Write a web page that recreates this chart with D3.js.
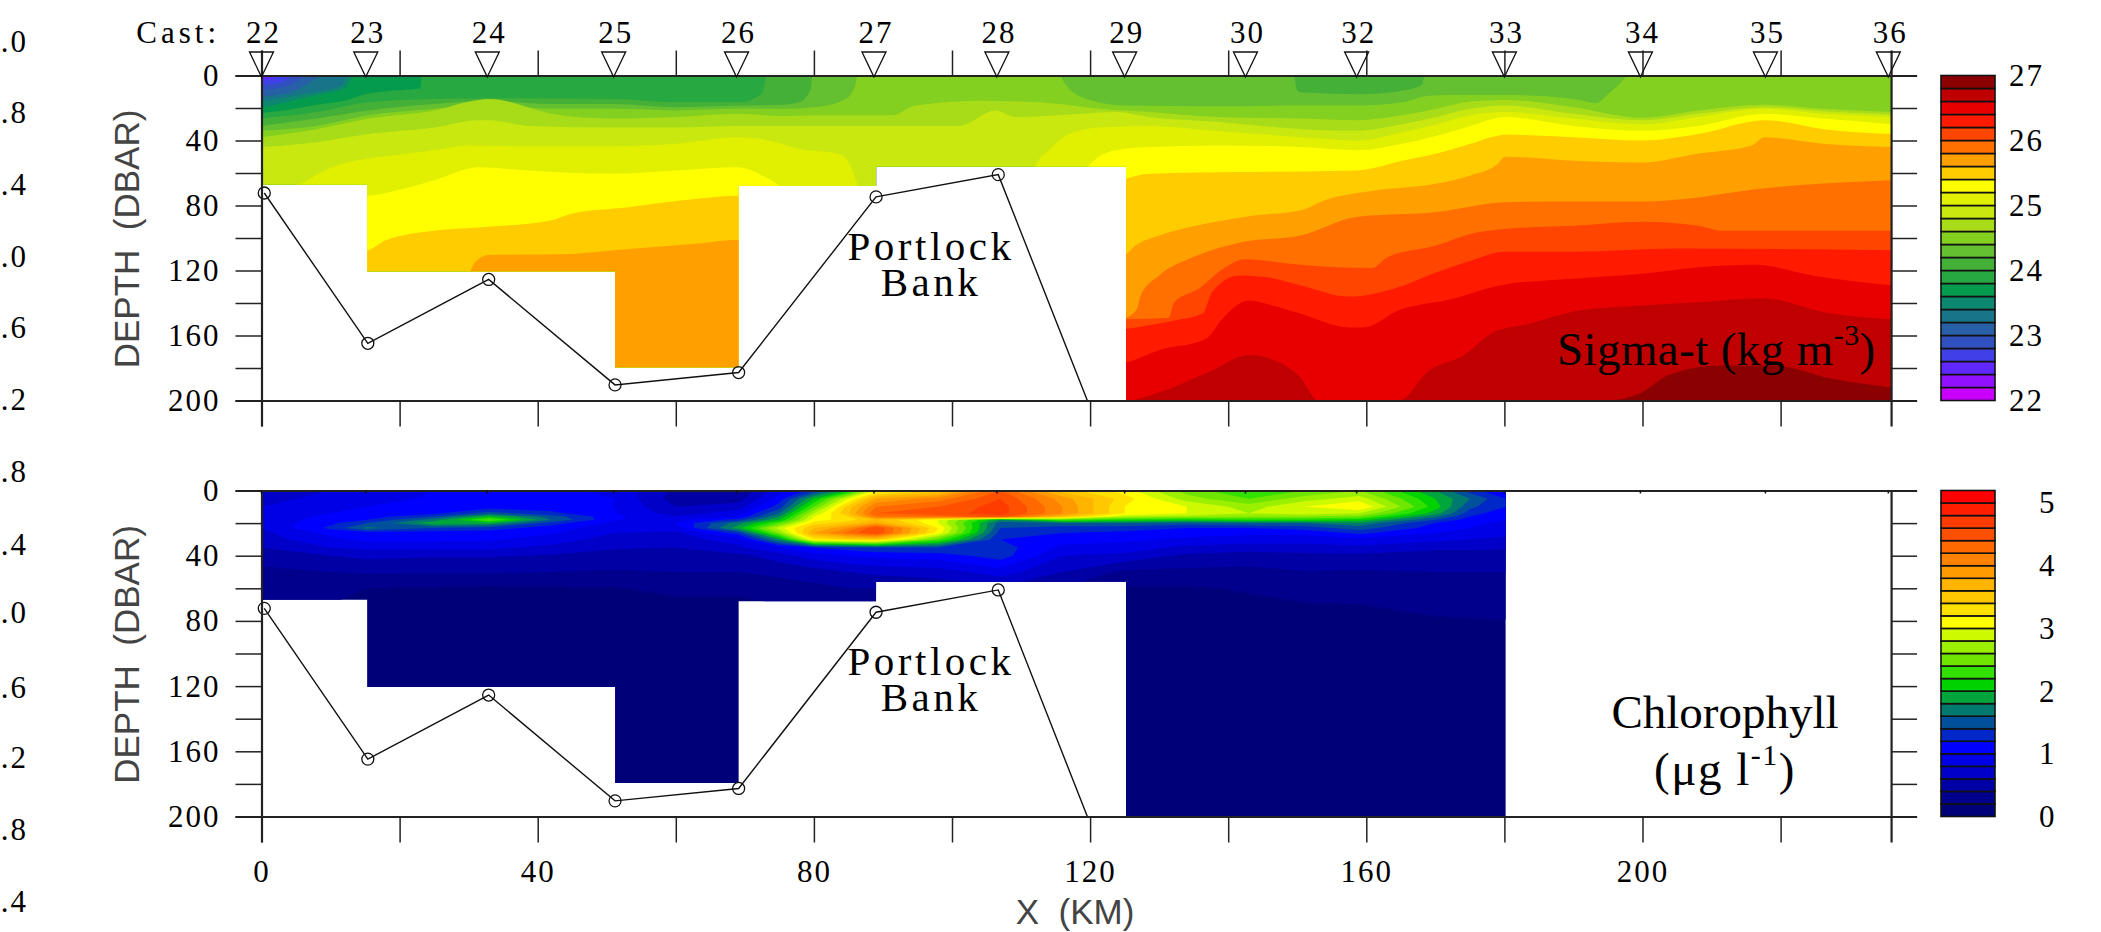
<!DOCTYPE html>
<html>
<head>
<meta charset="utf-8">
<script src="https://cdn.jsdelivr.net/npm/d3@7"></script>
<style>
  body { margin: 0; background: #fff; }
  text { font-family: "Liberation Serif", serif; fill: #000; }
  .num text, text.num { font-size: 31px; letter-spacing: 2px; }
  .axis-title { font-family: "Liberation Sans", sans-serif; font-size: 35px; fill: #444; }
  .note { font-size: 47px; }
  .bank { font-size: 41px; letter-spacing: 3.5px; }
</style>
</head>
<body>
<svg width="2101" height="932"></svg>
<script>
const svg = d3.select('svg');

// Casts along the section
const castNames = [22, 23, 24, 25, 26, 27, 28, 29, 30, 32, 33, 34, 35, 36];
const castKm = [0, 15.1, 32.7, 51, 68.8, 88.7, 106.5, 125, 142.5, 158.6, 180, 199.7, 217.8, 235.6];

// Bottom profile (km, dbar)
const bottomKm = [0.4, 15.4, 32.9, 51.2, 69.1, 89, 106.7, 119.6];
const bottomDepth = [72.3, 164.8, 125.5, 190.4, 182.8, 74.7, 61, 200];

// Deepest sampled depth, step by step along the section
const limitKm = [0, 15.3, 51.2, 69.1, 89, 125.2, 236];
const limitDepth = [67, 120.5, 179.5, 68, 56, 200, 200];
const chlLimitKm = [0, 15.3, 51.2, 69.1, 89, 125.2, 180.2];
const chlLimitDepth = [67, 120.5, 179.5, 68, 56, 200, 200];

// Colour ramps, low to high
const sigmaColors = ['#c800ff', '#9010ff', '#6028ff', '#4040e8', '#3050c0', '#2860a8', '#187488', '#0c8870', '#049c4c',
  '#28a840', '#44b038', '#64c030', '#84d020', '#a8dc18', '#c8e810', '#e0f000', '#ffff00', '#ffcc00', '#ffa000',
  '#ff7000', '#ff4500', '#ff1a00', '#e80000', '#c00000', '#8b0000'];
const chlColors = ['#000078', '#00008c', '#0000a5', '#0000c8', '#0000e6', '#0000ff', '#0028c8', '#00509b', '#007a6e',
  '#00a53c', '#00d200', '#32e100', '#6ee600', '#9bf000', '#cdfa00', '#ffff00', '#ffe100', '#ffc800', '#ffb400',
  '#ff9b00', '#ff8200', '#ff6900', '#ff5000', '#ff3c00', '#ff1e00', '#ff0000'];

// Isopycnal depths [km, dbar], one list per contour level
const iso224 = [[0, 0], [236, 0]];
const iso226 = [[0, 3], [1.5, 2], [2.4, 0], [236, 0]];
const iso228 = [[0, 6], [3, 4], [4.8, 0], [236, 0]];
const iso230 = [[0, 9], [4, 6], [7, 0], [236, 0]];
const iso232 = [[0, 13], [5, 9], [9.4, 0], [236, 0]];
const iso234 = [[0, 16], [6, 11.5], [11.5, 6.5], [12.5, 0], [236, 0]];
const iso236 = [[0, 20], [4, 16], [8, 12], [12, 8], [13.5, 0], [236, 0]];
const iso238 = [[0, 23], [4, 21], [8, 18], [12, 15.5], [15.5, 11], [20, 9], [23, 8], [23.2, 0], [236, 0]];
const iso240 = [[0, 26.5], [8, 22.5], [15.5, 16.5], [25, 14.5], [33, 14], [51, 14.5], [60, 16.5], [69, 16.5], [72.5, 11], [73.2, 0], [236, 0]];
const iso242 = [[0, 31], [8, 26.5], [15.5, 21.5], [25, 17.5], [33, 15.5], [42, 17.5], [51, 17.5], [60, 19.5], [69, 18.5], [75.4, 18], [77.8, 16.5], [79.5, 9], [79.8, 0],
  [149.5, 0], [150, 9.5], [151, 10.5], [159, 11.5], [165, 9.5], [168, 6], [168.5, 0], [236, 0]];
const iso244 = [[0, 34], [8, 31], [15.5, 24.5], [25, 20.5], [33, 17.5], [42, 20.5], [51, 20.5], [60, 21.5], [69, 20.5], [75.4, 20.5], [80.2, 19.5], [84.6, 14.5], [86, 6], [86.3, 0],
  [115.5, 0], [116.5, 6], [118.9, 13.5], [125.2, 18.5], [138.2, 19], [150.8, 18.5], [158.6, 18.5], [165.2, 16.5], [169.1, 12.5], [172.4, 12], [180.1, 12], [190, 14.5], [193.3, 17], [194.9, 12], [196.5, 6], [198, 0], [236, 0]];
const iso246 = [[0, 38], [8, 33], [15.5, 26.5], [25, 21.5], [31.4, 15], [33, 14.5], [42, 23.5], [51, 26.5], [60, 25.5], [69, 23.5], [75.4, 25], [80.2, 24.5], [91.3, 24.5], [94.7, 18.5], [104.4, 15.5],
  [115.5, 17.5], [121.3, 20.5], [128.5, 22.5], [138.2, 25.5], [150.8, 26.5], [158.6, 27.5], [165.2, 24.5], [170.2, 20.5], [175.1, 16], [180.1, 15], [190, 19.5], [199.9, 26], [208.1, 21.5], [217.7, 18], [226.2, 20.5], [236, 22.5]];
const iso248 = [[0, 44], [8, 41], [15.5, 36], [25, 32], [31.4, 27.5], [33, 27.5], [38.6, 31], [51, 32], [60, 32], [69, 31], [75.4, 31], [81.7, 31], [91.3, 31], [101, 31], [106.3, 21.5], [109.2, 25.5],
  [118.9, 23.5], [123.7, 22.5], [128.5, 25.5], [138.2, 28.5], [150.8, 33], [158.6, 34], [165.2, 30], [170.2, 25.5], [175.1, 20.5], [180.1, 18.5], [190, 23.5], [199.9, 27.5], [208.1, 23.5], [217.7, 19.5], [226.2, 22], [236, 24]];
const iso250 = [[0, 70], [5.8, 66.5], [8.2, 60.5], [11.6, 54.5], [19.3, 49], [25, 46], [30, 43], [38.6, 43.5], [51, 43.5], [60, 42], [69, 38], [75.4, 42], [76.8, 44], [84.1, 49], [85.5, 57.5], [86.8, 70],
  [111.1, 70], [112.1, 55.5], [114, 46], [116.5, 37], [121.3, 32], [128.5, 31], [138.2, 34], [150.8, 38], [158.6, 40], [165.2, 35], [170.2, 30], [175.1, 24.5], [180.1, 22.5], [190, 26.5], [199.9, 30], [208.1, 25.5], [217.7, 20.5], [226.2, 23.5], [236, 25.5]];
const iso252 = [[0, 75], [15.3, 74], [20.3, 70], [25, 64.5], [31.4, 56.5], [38.6, 58.5], [51, 60.5], [60, 58.5], [69, 56.5], [72.5, 61.5], [75, 68], [76, 72], [119, 72], [119.8, 55.5],
  [123.7, 46], [128.5, 44], [138.2, 43], [150.8, 44], [158.6, 46], [165.2, 42], [170.2, 37], [175.1, 31], [180.1, 25.5], [190, 31], [199.9, 34], [208.1, 31], [217.7, 23.5], [226.2, 26.5], [236, 30]];
const iso254 = [[0, 110], [15.3, 107.5], [17.9, 101.5], [25, 95.5], [31.4, 93.5], [42, 89], [44.9, 85], [53.1, 81], [62.8, 76], [69.1, 74], [120, 74], [125.2, 63.5], [128.5, 60.5], [138.2, 59.5], [150.8, 59],
  [158.6, 58.5], [165.2, 52.5], [170.2, 48], [175.1, 42], [179, 37], [180.1, 36.5], [190, 38], [199.9, 40], [208.1, 36], [217.7, 27.5], [226.2, 33], [236, 36]];
const iso256 = [[0, 125], [30, 125], [30.2, 121], [31.4, 113], [32.9, 110.5], [43.5, 110], [51, 107.5], [62.8, 103.5], [69.1, 101], [125, 110], [126.6, 104.5], [130, 98.5], [138.2, 90], [144, 86], [150.4, 83],
  [154.5, 76], [160.8, 71], [170.2, 66.5], [175.1, 61.5], [179, 54.5], [180.1, 50], [190, 52.5], [199.9, 53.5], [208.1, 48], [215.8, 43], [217.7, 38], [226.2, 42], [236, 44]];
const iso258 = [[0, 200], [69.1, 200], [125.2, 149], [126.8, 143.5], [127.3, 135.5], [130, 123], [134.8, 112], [142.1, 102.5], [150.4, 98.5], [158.6, 87], [170.2, 84], [180.1, 78], [190, 77.5], [199.9, 77.5], [208.1, 75], [216.3, 70], [226.2, 66.5], [236, 64.5]];
const iso260 = [[0, 200], [69.1, 200], [125.2, 150], [131.4, 149], [132.2, 139.5], [135.8, 131], [139.2, 119], [142.5, 113], [145.4, 114], [150.4, 116.5], [160.8, 118.5], [163, 112], [170.2, 104.5], [175.1, 97.5], [180.1, 94.5], [190, 92.5], [199.9, 90], [208.1, 92.5], [211.4, 95.5], [236, 95.5]];
const iso262 = [[0, 200], [69.1, 200], [125.2, 156], [131.9, 151], [136.3, 146.5], [137.7, 133], [141.6, 123], [145.4, 124], [150.4, 129], [157.5, 136], [164.1, 131], [170.2, 121], [175.1, 114], [180.1, 108.5], [190, 108.5], [205.3, 106.5], [236, 107.5]];
const iso264 = [[0, 200], [69.1, 200], [125.2, 176.5], [130, 169], [136.8, 162], [139.2, 149.5], [143, 138.5], [146.4, 141.5], [150.4, 146.5], [157.5, 155], [159.7, 155], [164.7, 144.5], [172.4, 137.5], [179.5, 129], [190, 125], [199.9, 122], [208.1, 118], [216.3, 116.5], [224.6, 123], [236, 129]];
const iso266 = [[0, 200], [125.2, 200], [130, 195], [137.2, 182.5], [143, 172], [147.9, 177.5], [150.4, 185.5], [153.1, 200], [164.7, 200], [169.1, 181.5], [174, 172.5], [178.4, 158], [183.4, 153], [191, 144.5], [199.9, 141.5], [208.1, 139.5], [217.4, 137], [227.3, 146.5], [236, 150]];
const iso268 = [[0, 205], [194.9, 200], [199.9, 195], [203.7, 184.5], [211.4, 178.5], [219.1, 178.5], [227.3, 186.5], [236, 192]];
const sigmaIsolines = [iso224, iso226, iso228, iso230, iso232, iso234, iso236, iso238, iso240, iso242, iso244, iso246,
  iso248, iso250, iso252, iso254, iso256, iso258, iso260, iso262, iso264, iso266, iso268];

// Chlorophyll profiles, one per station, read at chlDepth
const chlKm = [0, 10, 15.3, 25, 33, 42, 51, 60, 69, 75, 80, 85, 89, 98, 107, 116, 125, 134, 143, 151, 159, 170, 175, 180.2];
const chlDepth = [0, 5, 10, 14, 16, 18, 20, 23, 26, 30, 35, 40, 50, 60, 70, 90, 200];
const chlProfiles = [
  [.7, .75, .8, .85, .85, .85, .85, .8, .75, .7, .6, .5, .35, .22, .2, .1, .1],
  [.8, .85, .95, 1.0, 1.05, 1.1, 1.15, 1.25, 1.05, .95, .8, .6, .4, .22, .2, .1, .1],
  [.9, .95, 1.0, 1.05, 1.1, 1.2, 1.4, 1.65, 1.1, 1.05, .85, .65, .42, .2, .15, .1, .1],
  [1.0, 1.02, 1.05, 1.15, 1.4, 1.7, 1.95, 1.4, 1.1, 1.05, .85, .62, .42, .18, .14, .1, .1],
  [1.05, 1.05, 1.1, 1.5, 2.0, 2.45, 1.9, 1.3, 1.1, 1.03, .85, .62, .42, .17, .13, .1, .1],
  [1.05, 1.05, 1.1, 1.25, 1.5, 1.6, 1.3, 1.1, 1.02, .9, .75, .58, .4, .18, .13, .1, .1],
  [.95, 1.0, 1.0, 1.02, 1.05, 1.02, .95, .85, .8, .7, .62, .52, .38, .19, .14, .1, .1],
  [.55, .5, .6, .7, .8, .9, 1.0, .9, .75, .7, .6, .5, .4, .25, .15, .1, .1],
  [.4, .5, .7, .9, 1.0, 1.3, 1.7, 1.9, 1.3, .9, .75, .55, .4, .25, .15, .1, .1],
  [.9, 1.1, 1.3, 1.6, 1.8, 2.0, 2.4, 2.9, 2.6, 1.8, 1.0, .7, .45, .3, .2, .1, .1],
  [1.3, 2.0, 2.4, 2.8, 3.0, 3.1, 3.3, 3.6, 3.8, 3.2, 1.2, .9, .5, .35, .2, .1, .1],
  [2.0, 3.0, 3.5, 3.6, 3.4, 3.3, 3.5, 4.0, 4.3, 3.4, 1.3, 1.0, .6, .4, .2, .1, .1],
  [3.0, 3.8, 4.2, 4.4, 4.2, 3.6, 3.8, 4.6, 4.6, 3.5, 1.4, 1.05, .65, .4, .2, .1, .1],
  [3.4, 4.1, 4.4, 4.5, 4.3, 3.0, 3.0, 3.2, 3.1, 2.4, 1.4, 1.1, .7, .45, .2, .1, .1],
  [4.4, 4.6, 4.7, 4.7, 4.5, 1.8, 1.5, 1.4, 1.3, 1.2, 1.3, 1.3, .9, .55, .3, .1, .1],
  [3.5, 3.9, 4.0, 4.0, 3.6, 2.4, 1.6, 1.3, 1.2, 1.1, .95, .8, .6, .4, .2, .1, .1],
  [3.1, 3.3, 3.2, 3.2, 2.8, 2.2, 1.6, 1.3, 1.15, 1.05, .9, .75, .35, .18, .15, .1, .1],
  [2.5, 2.7, 3.0, 3.0, 2.7, 2.1, 1.5, 1.2, 1.1, .95, .75, .55, .35, .18, .12, .1, .1],
  [2.2, 2.4, 2.7, 2.8, 2.6, 2.2, 1.6, 1.2, 1.05, .9, .7, .5, .35, .22, .16, .1, .1],
  [2.4, 2.7, 3.0, 2.9, 2.6, 2.2, 1.6, 1.3, 1.05, .9, .7, .55, .39, .27, .19, .1, .1],
  [2.6, 2.9, 3.2, 2.8, 2.5, 2.1, 1.75, 1.5, 1.25, .95, .75, .55, .38, .28, .2, .12, .1],
  [1.8, 2.0, 2.1, 1.9, 1.65, 1.4, 1.2, 1.1, 1.0, .85, .65, .5, .4, .3, .24, .13, .1],
  [1.3, 1.6, 1.45, 1.3, 1.2, 1.1, 1.05, 1.0, .9, .8, .65, .5, .4, .3, .25, .13, .1],
  [.95, 1.2, 1.2, 1.05, 1.0, 1.0, .95, .9, .85, .75, .62, .5, .4, .3, .25, .14, .1]
];

// Cut-off tick labels of the neighbouring figure, at the left edge
const strayLabels = ['.0', '.8', '.4', '.0', '.6', '.2', '.8', '.4', '.0', '.6', '.2', '.8', '.4'];
const strayY = [42, 113, 185, 257, 328, 400, 472, 545, 613, 688, 758, 830, 902];

const depthTicks = d3.range(0, 201, 20);
const kmTicks = d3.range(0, 221, 20);

// SCALES
const xScale = d3.scaleLinear().domain([0, 200]).range([261.5, 1642.5]);
const xRight = xScale(236);
const yTop = d3.scaleLinear().domain([0, 200]).range([75.5, 400.5]);
const yBottom = d3.scaleLinear().domain([0, 200]).range([490.5, 816.5]);
const sigmaBar = d3.scaleLinear().domain([22, 27]).range([400.5, 75.5]);
const chlBar = d3.scaleLinear().domain([0, 5.2]).range([816.5, 490.5]);

const styleAxis = g => {
  g.selectAll('.domain').attr('stroke', '#222').attr('stroke-width', 1.5);
  g.selectAll('.tick line').attr('stroke', '#222').attr('stroke-width', 1.5);
};

const addClip = (id, kms, depths, yScale) => {
  const limitArea = d3.area()
    .curve(d3.curveStepAfter)
    .x(d => xScale(d[0]))
    .y0(yScale(0))
    .y1(d => yScale(d[1]));
  svg.append('clipPath').attr('id', id)
    .append('path')
    .attr('d', limitArea(d3.zip(kms, depths)));
};

const drawFrame = (yScale, isTopPanel) => {
  const g = svg.append('g');
  const lineGen = d3.line().x(d => xScale(d[0])).y(d => yScale(d[1]));

  // Bottom line and its stations
  g.append('path')
    .attr('d', lineGen(d3.zip(bottomKm, bottomDepth)))
    .attr('fill', 'none').attr('stroke', '#111').attr('stroke-width', 1.4);
  g.selectAll('circle').data(d3.zip(bottomKm, bottomDepth).slice(0, 7)).join('circle')
    .attr('cx', d => xScale(d[0])).attr('cy', d => yScale(d[1])).attr('r', 6)
    .attr('fill', 'none').attr('stroke', '#111').attr('stroke-width', 1.3);

  // Y axes
  g.append('g').attr('class', 'num').attr('transform', `translate(${xScale(0)},0)`)
    .call(d3.axisLeft(yScale).tickValues(depthTicks).tickSize(26).tickPadding(15)
      .tickFormat(d => d % 40 === 0 ? d : ''))
    .call(styleAxis);
  g.append('g').attr('transform', `translate(${xRight},0)`)
    .call(d3.axisRight(yScale).tickValues(depthTicks).tickSize(26).tickFormat(''))
    .call(styleAxis);

  // X axes
  const xAxis = d3.scaleLinear().domain([0, 236]).range([xScale(0), xRight]);
  g.append('g').attr('transform', `translate(0,${yScale(0)})`)
    .call(d3.axisTop(xAxis).tickValues(kmTicks).tickSize(isTopPanel ? 25 : 0).tickFormat(''))
    .call(styleAxis);
  g.append('g').attr('class', 'num').attr('transform', `translate(0,${yScale(200)})`)
    .call(d3.axisBottom(xAxis).tickValues(kmTicks).tickSize(26).tickPadding(17)
      .tickFormat(d => (!isTopPanel && d % 40 === 0) ? d : ''))
    .call(styleAxis);
  g.selectAll('.domain').attr('stroke-width', 2.2);

  // Axis label
  const yMid = (yScale(0) + yScale(200)) / 2 + 1;
  g.append('text').attr('class', 'axis-title')
    .attr('transform', `translate(139,${yMid}) rotate(-90)`)
    .attr('text-anchor', 'middle')
    .attr('xml:space', 'preserve')
    .text('DEPTH  (DBAR)');

  // Bank label
  g.append('text').attr('class', 'bank').attr('x', 931).attr('y', yScale(0) + 184.5)
    .attr('text-anchor', 'middle').text('Portlock');
  g.append('text').attr('class', 'bank').attr('x', 931).attr('y', yScale(0) + 220)
    .attr('text-anchor', 'middle').text('Bank');
};

const drawColorBar = (colors, barScale, tickValues, padding) => {
  const step = (barScale.domain()[1] - barScale.domain()[0]) / colors.length;
  const bar = svg.append('g');
  bar.selectAll('rect').data(colors).join('rect')
    .attr('x', 1941).attr('width', 54)
    .attr('y', (d, i) => barScale(barScale.domain()[0] + (i + 1) * step))
    .attr('height', (d, i) => barScale(barScale.domain()[0] + i * step) - barScale(barScale.domain()[0] + (i + 1) * step))
    .attr('fill', d => d)
    .attr('stroke', '#111').attr('stroke-width', 1.6);
  const axis = svg.append('g').attr('class', 'num').attr('transform', 'translate(1996,0)')
    .call(d3.axisRight(barScale).tickValues(tickValues).tickSize(0).tickPadding(padding).tickFormat(d3.format('d')));
  axis.select('.domain').remove();
};

// ---- TOP PANEL: Sigma-t ----
addClip('sigma-clip', limitKm, limitDepth, yTop);
const sigmaArea = d3.area()
  .curve(d3.curveMonotoneX)
  .x(d => xScale(d[0]))
  .y0(d => yTop(Math.min(d[1], 200)))
  .y1(yTop(200));
svg.append('g').attr('clip-path', 'url(#sigma-clip)')
  .selectAll('path').data(sigmaIsolines).join('path')
  .attr('d', d => sigmaArea(d))
  .attr('fill', (d, i) => sigmaColors[i + 2]);

// ---- BOTTOM PANEL: Chlorophyll ----
addClip('chl-clip', chlLimitKm, chlLimitDepth, yBottom);
const nx = chlKm.length, ny = chlDepth.length;
const chlValues = new Array(nx * ny);
chlProfiles.forEach((profile, i) => profile.forEach((v, j) => { chlValues[j * nx + i] = v; }));

// Grid index to km and dbar
const kmAt = d3.scaleLinear().domain(d3.range(nx)).range(chlKm).clamp(true);
const depthAt = d3.scaleLinear().domain(d3.range(ny)).range(chlDepth).clamp(true);
const gridPath = d3.geoPath(d3.geoTransform({
  point(x, y) {
    this.stream.point(xScale(kmAt(x - 0.5)), yBottom(depthAt(y - 0.5)));
  }
}));
const chlContours = d3.contours().size([nx, ny]);
const chlG = svg.append('g').attr('clip-path', 'url(#chl-clip)');
chlG.append('rect')
  .attr('x', xScale(0)).attr('y', yBottom(0))
  .attr('width', xScale(180.2) - xScale(0)).attr('height', yBottom(200) - yBottom(0))
  .attr('fill', chlColors[0]);
chlG.selectAll('path').data(chlColors.slice(1)).join('path')
  .attr('d', (d, i) => gridPath(chlContours.contour(chlValues, (i + 1) * 0.2)))
  .attr('fill', d => d);

drawFrame(yTop, true);
drawFrame(yBottom, false);
drawColorBar(sigmaColors, sigmaBar, [22, 23, 24, 25, 26, 27], 13);
drawColorBar(chlColors, chlBar, [0, 1, 2, 3, 4, 5], 43);

// Small cast marks on the lower frame
svg.append('g').selectAll('line').data(castKm).join('line')
  .attr('x1', d => xScale(d)).attr('x2', d => xScale(d))
  .attr('y1', yBottom(0)).attr('y2', yBottom(0) + 3)
  .attr('stroke', '#111').attr('stroke-width', 1.5);

// Cast triangles and names
const triangle = d3.symbol().type(d3.symbolTriangle).size(250);
svg.append('g').selectAll('path').data(castKm).join('path')
  .attr('d', triangle())
  .attr('transform', d => `translate(${xScale(d)},60.3) scale(1,-1.2)`)
  .attr('fill', 'none').attr('stroke', '#111').attr('stroke-width', 1.2);
svg.append('g').selectAll('text').data(castNames).join('text')
  .attr('class', 'num')
  .attr('x', (d, i) => xScale(castKm[i]) + 2)
  .attr('y', 43).attr('text-anchor', 'middle').text(d => d);
svg.append('text').attr('class', 'num').attr('x', 220).attr('y', 43)
  .attr('text-anchor', 'end').attr('style', 'letter-spacing:4px').text('Cast:');

// Panel names
const sigmaLabel = svg.append('text').attr('class', 'note').attr('x', 1557).attr('y', 365).attr('style', 'letter-spacing:0.4px');
sigmaLabel.append('tspan').text('Sigma-t (kg m');
sigmaLabel.append('tspan').attr('font-size', 30).attr('dy', -20).text('-3');
sigmaLabel.append('tspan').attr('dy', 20).text(')');

svg.append('text').attr('class', 'note').attr('x', 1725).attr('y', 728)
  .attr('text-anchor', 'middle').text('Chlorophyll');
const chlLabel = svg.append('text').attr('class', 'note').attr('x', 1725).attr('y', 785)
  .attr('text-anchor', 'middle').attr('style', 'letter-spacing:1.5px');
chlLabel.append('tspan').text('(μg l');
chlLabel.append('tspan').attr('font-size', 30).attr('dy', -20).text('-1');
chlLabel.append('tspan').attr('dy', 20).text(')');

svg.append('text').attr('class', 'axis-title').attr('x', 1075).attr('y', 924)
  .attr('text-anchor', 'middle').attr('xml:space', 'preserve').text('X  (KM)');

// Left edge labels
svg.append('g').selectAll('text').data(strayLabels).join('text')
  .attr('class', 'num')
  .attr('x', 28).attr('y', (d, i) => strayY[i] + 10)
  .attr('text-anchor', 'end').text(d => d);
</script>
</body>
</html>
